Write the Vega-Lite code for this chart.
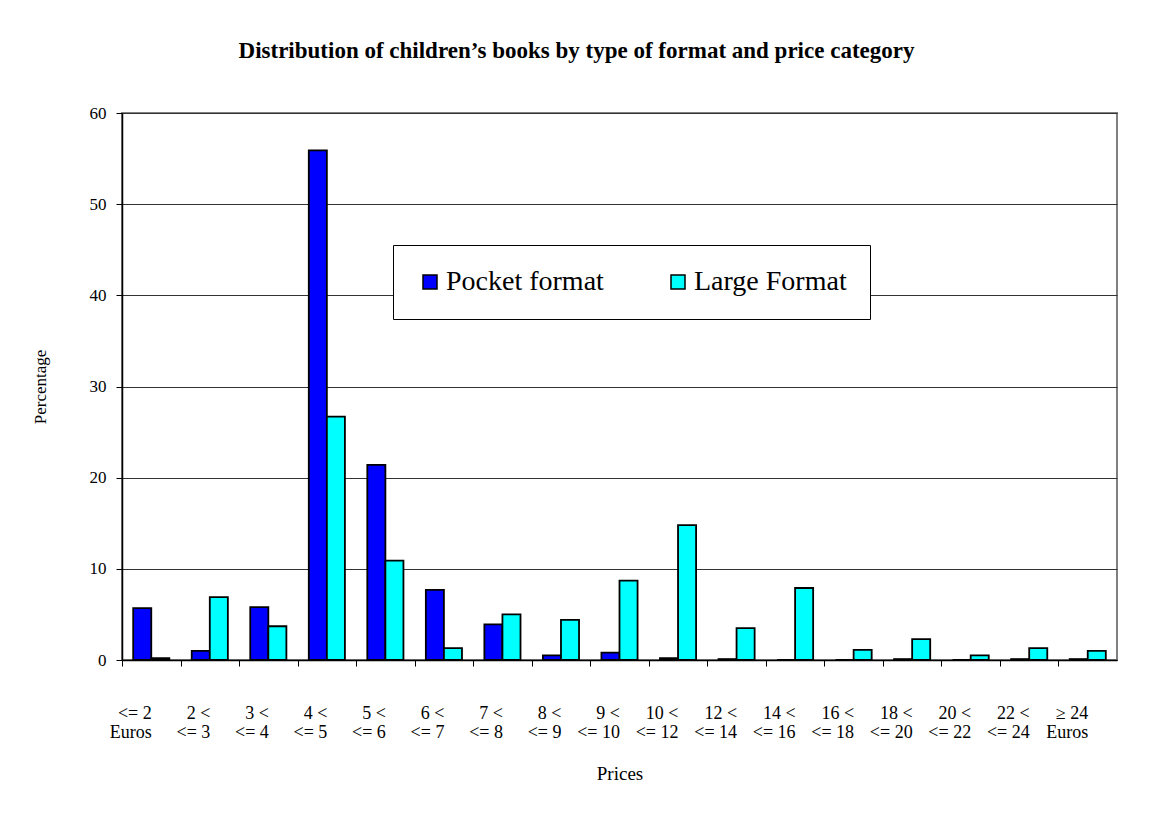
{
  "$schema": "https://vega.github.io/schema/vega-lite/v6.json",
  "width": 995,
  "height": 547,
  "autosize": {"type": "none"},
  "padding": {"left": 122, "top": 113, "right": 37, "bottom": 165},
  "background": "white",
  "title": {
    "text": "Distribution of children’s books by type of format and price category",
    "font": "Liberation Serif",
    "fontSize": 23,
    "fontWeight": "bold",
    "color": "black",
    "anchor": "middle",
    "frame": "group",
    "dx": -43,
    "offset": 41
  },
  "data": {
    "values": [
      {"price": "<= 2 Euros", "format": "Pocket format", "pct": 5.7},
      {"price": "<= 2 Euros", "format": "Large Format", "pct": 0.2},
      {"price": "2 < <= 3", "format": "Pocket format", "pct": 1.0},
      {"price": "2 < <= 3", "format": "Large Format", "pct": 6.9},
      {"price": "3 < <= 4", "format": "Pocket format", "pct": 5.8},
      {"price": "3 < <= 4", "format": "Large Format", "pct": 3.7},
      {"price": "4 < <= 5", "format": "Pocket format", "pct": 55.9},
      {"price": "4 < <= 5", "format": "Large Format", "pct": 26.7},
      {"price": "5 < <= 6", "format": "Pocket format", "pct": 21.4},
      {"price": "5 < <= 6", "format": "Large Format", "pct": 10.9},
      {"price": "6 < <= 7", "format": "Pocket format", "pct": 7.7},
      {"price": "6 < <= 7", "format": "Large Format", "pct": 1.3},
      {"price": "7 < <= 8", "format": "Pocket format", "pct": 3.9},
      {"price": "7 < <= 8", "format": "Large Format", "pct": 5.0},
      {"price": "8 < <= 9", "format": "Pocket format", "pct": 0.5},
      {"price": "8 < <= 9", "format": "Large Format", "pct": 4.4},
      {"price": "9 < <= 10", "format": "Pocket format", "pct": 0.8},
      {"price": "9 < <= 10", "format": "Large Format", "pct": 8.7},
      {"price": "10 < <= 12", "format": "Pocket format", "pct": 0.2},
      {"price": "10 < <= 12", "format": "Large Format", "pct": 14.8},
      {"price": "12 < <= 14", "format": "Pocket format", "pct": 0.1},
      {"price": "12 < <= 14", "format": "Large Format", "pct": 3.5},
      {"price": "14 < <= 16", "format": "Pocket format", "pct": 0},
      {"price": "14 < <= 16", "format": "Large Format", "pct": 7.9},
      {"price": "16 < <= 18", "format": "Pocket format", "pct": 0},
      {"price": "16 < <= 18", "format": "Large Format", "pct": 1.1},
      {"price": "18 < <= 20", "format": "Pocket format", "pct": 0.1},
      {"price": "18 < <= 20", "format": "Large Format", "pct": 2.3},
      {"price": "20 < <= 22", "format": "Pocket format", "pct": 0},
      {"price": "20 < <= 22", "format": "Large Format", "pct": 0.5},
      {"price": "22 < <= 24", "format": "Pocket format", "pct": 0.1},
      {"price": "22 < <= 24", "format": "Large Format", "pct": 1.3},
      {"price": "≥ 24 Euros", "format": "Pocket format", "pct": 0.1},
      {"price": "≥ 24 Euros", "format": "Large Format", "pct": 1.0}
    ]
  },
  "mark": {"type": "bar", "stroke": "black", "strokeWidth": 1.8},
  "encoding": {
    "x": {
      "field": "price",
      "type": "nominal",
      "sort": null,
      "scale": {"paddingInner": 0, "paddingOuter": 0},
      "axis": {
        "title": "Prices",
        "titleFont": "Liberation Serif",
        "titleFontSize": 19,
        "titleFontWeight": "normal",
        "titleColor": "black",
        "titleY": 113,
        "titleBaseline": "middle",
        "labelAngle": 0,
        "labelAlign": "right",
        "labelExpr": "indexof(datum.label, ' < <= ') > 0 ? [substring(datum.label, 0, indexof(datum.label, ' <= ')), substring(datum.label, indexof(datum.label, ' <= ') + 1)] : [substring(datum.label, 0, indexof(datum.label, ' Euros')), 'Euros']",
        "labelFont": "Liberation Serif",
        "labelFontSize": 18,
        "labelLineHeight": 19,
        "labelColor": "black",
        "labelPadding": 38,
        "labelOverlap": false,
        "labelLimit": 0,
        "tickOffset": -29.26,
        "labelOffset": 29.26,
        "tickSize": 6,
        "tickColor": "black",
        "domainColor": "black",
        "domainWidth": 1.5,
        "grid": false
      }
    },
    "xOffset": {
      "field": "format",
      "type": "nominal",
      "sort": ["Pocket format", "Large Format"],
      "scale": {"paddingInner": 0, "paddingOuter": 0.62}
    },
    "y": {
      "field": "pct",
      "type": "quantitative",
      "scale": {"domain": [0, 60], "nice": false},
      "axis": {
        "title": "Percentage",
        "titleFont": "Liberation Serif",
        "titleFontSize": 17,
        "titleFontWeight": "normal",
        "titleColor": "black",
        "titlePadding": 40,
        "values": [0, 10, 20, 30, 40, 50, 60],
        "labelFont": "Liberation Serif",
        "labelFontSize": 17,
        "labelColor": "black",
        "labelPadding": 10,
        "tickSize": 6,
        "tickColor": "black",
        "domainColor": "black",
        "domainWidth": 1.5,
        "grid": true,
        "gridColor": "#333333",
        "gridWidth": 1
      }
    },
    "color": {
      "field": "format",
      "type": "nominal",
      "scale": {"domain": ["Pocket format", "Large Format"], "range": ["#0000FF", "#00FFFF"]},
      "legend": {
        "title": null,
        "orient": "none",
        "legendX": 271,
        "legendY": 132,
        "direction": "horizontal",
        "fillColor": "white",
        "strokeColor": "black",
        "padding": 23,
        "symbolType": "square",
        "symbolSize": 196,
        "symbolStrokeColor": "black",
        "symbolStrokeWidth": 1.5,
        "symbolOpacity": 1,
        "labelFont": "Liberation Serif",
        "labelFontSize": 28,
        "labelColor": "black",
        "labelOffset": 2,
        "labelLimit": 0,
        "columnPadding": 60
      }
    }
  },
  "config": {
    "view": {"stroke": "#808080", "strokeWidth": 2}
  }
}
